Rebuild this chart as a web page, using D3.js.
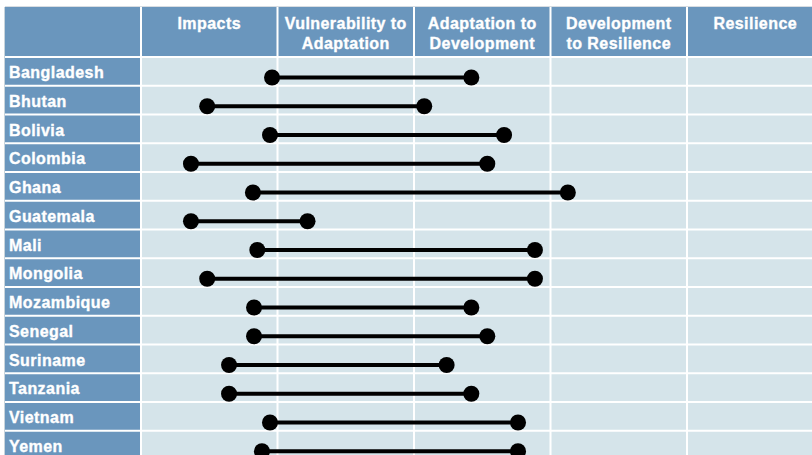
<!DOCTYPE html>
<html>
<head>
<meta charset="utf-8">
<script src="https://cdn.jsdelivr.net/npm/d3@7"></script>
<style>
  html, body { margin: 0; padding: 0; background: #fff; }
  svg { display: block; }
  text { font-family: "Liberation Sans", Arial, sans-serif; font-weight: bold; fill: #fff;
         stroke: #fff; stroke-width: 0.35px; letter-spacing: 0.45px; }
</style>
</head>
<body>
<svg id="chart"></svg>
<script>
// stages along the horizontal axis (one column each)
var stages = [
  ["Impacts"],
  ["Vulnerability to", "Adaptation"],
  ["Adaptation to", "Development"],
  ["Development", "to Resilience"],
  ["Resilience"]
];
var countries = ["Bangladesh", "Bhutan", "Bolivia", "Colombia", "Ghana", "Guatemala", "Mali",
  "Mongolia", "Mozambique", "Senegal", "Suriname", "Tanzania", "Vietnam", "Yemen"];
// position in stage units (0 = left edge of Impacts, 1 column = 1 unit)
var startVals = [0.96, 0.485, 0.945, 0.366, 0.82, 0.366, 0.852, 0.485, 0.828, 0.828, 0.645, 0.645, 0.945, 0.886];
var endVals = [2.42, 2.075, 2.66, 2.537, 3.127, 1.22, 2.886, 2.886, 2.42, 2.537, 2.239, 2.42, 2.762, 2.762];

var W = 812, H = 455;
var margin = { left: 5, top: 7 };
var labelW = 136, headH = 50, rowH = 28.75, colW = 136.5;
var svg = d3.select("#chart").attr("width", W).attr("height", H);

var x = d3.scaleLinear().domain([0, stages.length])
  .range([margin.left + labelW, margin.left + labelW + colW * stages.length]);
var y = d3.scaleBand().domain(countries)
  .range([margin.top + headH, margin.top + headH + rowH * countries.length]);

var headFill = "#6a96bd", cellFill = "#d5e4ea";

// backgrounds
svg.append("rect").attr("x", margin.left).attr("y", margin.top).attr("width", W).attr("height", headH).attr("fill", headFill);
svg.append("rect").attr("x", margin.left).attr("y", margin.top + headH).attr("width", labelW).attr("height", H).attr("fill", headFill);
svg.append("rect").attr("x", x(0)).attr("y", margin.top + headH).attr("width", W).attr("height", H).attr("fill", cellFill);

// grid lines
var grid = svg.append("g").attr("stroke", "#fff").attr("stroke-width", 2);
grid.selectAll("line.h").data(countries).enter().append("line")
  .attr("x1", margin.left).attr("x2", W)
  .attr("y1", function (d) { return y(d) + rowH; }).attr("y2", function (d) { return y(d) + rowH; });
grid.append("line").attr("x1", margin.left).attr("x2", W).attr("y1", y.range()[0]).attr("y2", y.range()[0]);
grid.selectAll("line.v").data(d3.range(stages.length)).enter().append("line")
  .attr("x1", function (d) { return x(d); }).attr("x2", function (d) { return x(d); })
  .attr("y1", margin.top).attr("y2", H);
svg.append("line").attr("x1", margin.left - 0.5).attr("x2", margin.left - 0.5).attr("y1", margin.top).attr("y2", H)
  .attr("stroke", "#c8d4dc").attr("stroke-width", 1);
svg.append("line").attr("x1", margin.left).attr("x2", W).attr("y1", margin.top - 0.5).attr("y2", margin.top - 0.5)
  .attr("stroke", "#d8dde2").attr("stroke-width", 1);

// header labels
var heads = svg.append("g").selectAll("text").data(stages).enter().append("text")
  .attr("text-anchor", "middle")
  .attr("font-size", 16)
  .attr("x", function (d, i) { return x(i + 0.5); })
  .attr("y", margin.top + 22);
heads.selectAll("tspan").data(function (d) { return d; }).enter().append("tspan")
  .attr("x", function () { return d3.select(this.parentNode).attr("x"); })
  .attr("dy", function (d, i) { return i ? 20 : 0; })
  .text(function (d) { return d; });

// row labels
svg.append("g").selectAll("text").data(countries).enter().append("text")
  .attr("x", margin.left + 4)
  .attr("y", function (d) { return y(d) + 21; })
  .attr("font-size", 16)
  .text(function (d) { return d; });

// dumbbells
var rows = svg.append("g").selectAll("g").data(countries).enter().append("g")
  .attr("transform", function (d) { return "translate(0," + (y(d) + 20.5) + ")"; });
rows.append("line")
  .attr("x1", function (d, i) { return x(startVals[i]); })
  .attr("x2", function (d, i) { return x(endVals[i]); })
  .attr("stroke", "#000").attr("stroke-width", 4);
rows.append("circle").attr("r", 8).attr("fill", "#000")
  .attr("cx", function (d, i) { return x(startVals[i]); });
rows.append("circle").attr("r", 8).attr("fill", "#000")
  .attr("cx", function (d, i) { return x(endVals[i]); });
</script>
</body>
</html>
